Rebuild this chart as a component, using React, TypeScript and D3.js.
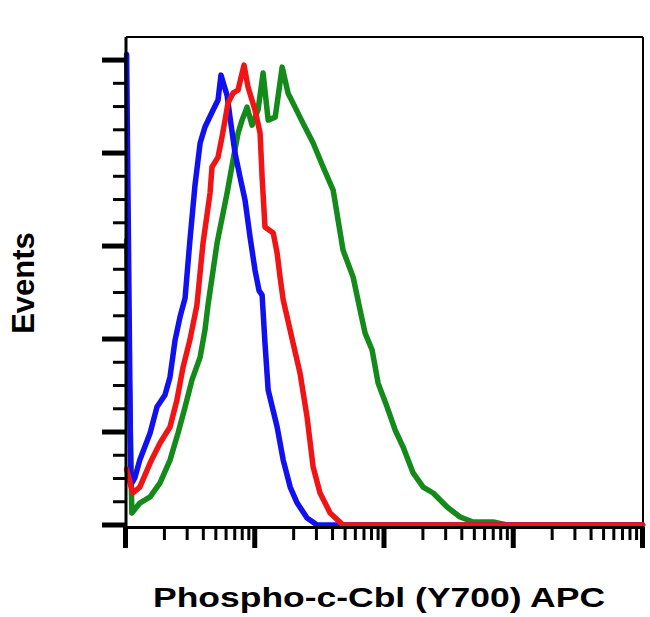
import React from "react";
import * as d3 from "d3";

// Histogram data: [fluorescence intensity (APC), events]
const blueSeries: [number, number][] = [
  [1.02, 253], [1.1, 21.5], [1.18, 25.3], [1.29, 34.9], [1.55, 49.5], [1.75, 63.4],
  [2.02, 69.9], [2.21, 79.6], [2.42, 99.5], [2.64, 111.8], [2.89, 122], [3.15, 153],
  [3.45, 182.8], [3.78, 205.4], [4.12, 214], [4.75, 223], [5.2, 228.5], [5.48, 241.9],
  [5.78, 236.5], [6.11, 231], [6.44, 219], [7.04, 200], [7.7, 187], [8.41, 174.7],
  [9.2, 154.8], [10.05, 137], [10.8, 126], [11.4, 123.6], [12.0, 97.8], [12.7, 72.6],
  [14.9, 52.7], [16.6, 34.9], [18.8, 20.4], [21.3, 11.8], [25.4, 3.8], [30.4, 0], [10000, 0],
];

const redSeries: [number, number][] = [
  [1.02, 30], [1.14, 17.2], [1.29, 20.4], [1.55, 33.3], [1.85, 44.1], [2.21, 52.7],
  [2.5, 67.2], [2.79, 84.9], [3.15, 99.5], [3.57, 118.3], [3.98, 151.6], [4.51, 178.5],
  [4.67, 192.5], [5.2, 197.8], [5.58, 208.6], [5.89, 217.7], [6.21, 226.9], [6.79, 232.2],
  [7.43, 233.9], [8.26, 247.3], [8.87, 235.5], [10.05, 223.1], [11.0, 210.7], [11.4, 187],
  [12.0, 160.2], [13.9, 157], [14.9, 146.2], [15.7, 133.3], [16.6, 121], [19.8, 97.8],
  [22.4, 81.7], [25.4, 58], [28.3, 31.2], [32.0, 17.2], [38.3, 6.5], [48.2, 0], [10000, 0],
];

const greenSeries: [number, number][] = [
  [1.02, 153], [1.12, 6.5], [1.29, 11.8], [1.55, 15.1], [1.85, 22.6], [2.21, 34.9],
  [2.55, 49.5], [2.89, 63.4], [3.27, 78], [3.78, 90.3], [4.12, 104.8], [4.35, 118.3],
  [5.11, 151.6], [6.11, 178.5], [6.79, 196.2], [7.43, 210.7], [7.98, 217.7], [8.72, 224.7],
  [9.53, 215], [10.6, 223.1], [11.6, 243], [12.7, 217.7], [14.4, 219.3], [16.3, 246.2],
  [18.1, 232.2], [20.5, 224.7], [23.6, 216.1], [28.3, 205.4], [33.8, 192.5], [40.4, 180.1],
  [48.2, 147.8], [57.7, 133.3], [65.3, 115.6], [71.4, 103.2], [80.9, 94.1], [90.0, 76.3],
  [105.7, 63.4], [121.9, 51.1], [140.6, 41.9], [168, 28], [201, 20.4], [240, 17.2],
  [308, 9.7], [388, 4.3], [489, 1.6], [699, 1.6], [897, 0], [10000, 0],
];

const xMajorTicks = [1, 10, 100, 1000, 10000];
const yMajorTicks = [0, 50, 100, 150, 200, 250];
const xLabel = "Phospho-c-Cbl (Y700) APC";
const yLabel = "Events";

export default function App() {
  const left = 126;
  const right = 643;
  const top = 37;
  const bottom = 525;

  const x = d3.scaleLog().domain([1, 10000]).range([125.5, 642.5]);
  const y = d3.scaleLinear().domain([0, 262.4]).range([bottom, top]);

  const xMinor: number[] = [];
  for (let k = 0; k < 4; k++) {
    for (let m = 2; m <= 9; m++) xMinor.push(m * Math.pow(10, k));
  }
  const yMinor: number[] = [];
  for (let v = 12.5; v < 250; v += 12.5) {
    if (v % 50 !== 0) yMinor.push(v);
  }

  const line = d3
    .line<[number, number]>()
    .x((d) => x(d[0]))
    .y((d) => y(d[1]));

  const series = [
    { data: greenSeries, color: "#148a1a" },
    { data: blueSeries, color: "#1010f0" },
    { data: redSeries, color: "#f01414" },
  ];

  const font = "'Liberation Sans', Arial, sans-serif";

  return (
    <svg
      width={650}
      height={617}
      style={{ position: "absolute", left: 0, top: 0, background: "#fff" }}
    >
      <rect x={0} y={0} width={650} height={617} fill="#fff" />
      {/* frame */}
      <line x1={left} y1={top} x2={right} y2={top} stroke="#000" strokeWidth={2} />
      <line x1={right} y1={top} x2={right} y2={bottom + 2} stroke="#000" strokeWidth={2} />

      {/* curves */}
      {series.map((s, i) => (
        <path
          key={i}
          d={line(s.data) || ""}
          fill="none"
          stroke={s.color}
          strokeWidth={5.5}
          strokeLinejoin="round"
          strokeLinecap="round"
        />
      ))}

      {/* axes lines */}
      <line x1={left} y1={top} x2={left} y2={bottom + 4} stroke="#000" strokeWidth={3} />
      <line x1={left - 1} y1={bottom + 2.5} x2={right + 1} y2={bottom + 2.5} stroke="#000" strokeWidth={3} />

      {/* y ticks */}
      {yMajorTicks.map((v) => (
        <line key={"ym" + v} x1={102} x2={left} y1={y(v)} y2={y(v)} stroke="#000" strokeWidth={5} />
      ))}
      {yMinor.map((v) => (
        <line key={"yn" + v} x1={113} x2={left} y1={y(v)} y2={y(v)} stroke="#000" strokeWidth={3} />
      ))}

      {/* x ticks */}
      {xMajorTicks.map((v) => (
        <line key={"xm" + v} x1={x(v)} x2={x(v)} y1={bottom + 2} y2={548} stroke="#000" strokeWidth={5} />
      ))}
      {xMinor.map((v) => (
        <line key={"xn" + v} x1={x(v)} x2={x(v)} y1={bottom + 2} y2={540} stroke="#000" strokeWidth={3} />
      ))}

      {/* labels */}
      <text
        x={379}
        y={607}
        textAnchor="middle"
        fontFamily={font}
        fontWeight="bold"
        fontSize={27}
        textLength={452}
        lengthAdjust="spacingAndGlyphs"
        fill="#000"
      >
        {xLabel}
      </text>
      <text
        transform="translate(34,283) rotate(-90)"
        textAnchor="middle"
        fontFamily={font}
        fontWeight="bold"
        fontSize={31}
        fill="#000"
      >
        {yLabel}
      </text>
    </svg>
  );
}
